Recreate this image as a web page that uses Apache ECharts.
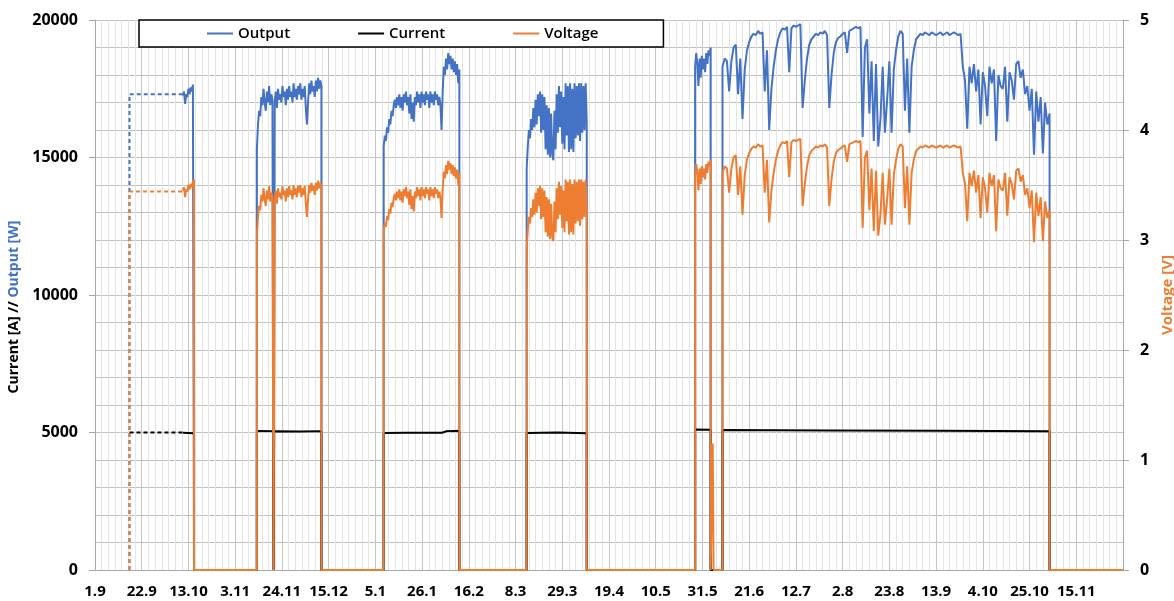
<!DOCTYPE html>
<html>
<head>
<meta charset="utf-8">
<script src="https://cdn.jsdelivr.net/npm/echarts@6/dist/echarts.min.js"></script>
<style>
    html, body {margin: 0; padding: 0; background: #fff;}
    #chart {width: 1174px; height: 601px;}
</style>
</head>
<body>
<div id="chart"></div>
<script>
// x values are days counted from 1.9.2019
const startDate = [2019, 8, 1];
const axisEndDay = 462;

// evenly sampled run segments: start day and sample step (days)
const segStart = [39.5, 72.75, 129.75, 194, 269.7, 282];
const segStep = [0.5, 0.5, 0.5, 0.5, 0.5, 1];

const outputSeg0 = [17250, 17400, 16950, 17300, 17200, 17500, 17300, 17550, 17400, 17650, 17700];
const voltageSeg0 = [3.45, 3.48, 3.39, 3.46, 3.44, 3.50, 3.46, 3.51, 3.48, 3.53, 3.55];

const outputSeg1 = [
    15300, 16200, 16700, 16500, 17200, 16900, 17500, 17000, 16700, 17400,
    17000, 17600, 16900, 17300, 17100, 0, 17000, 17400, 16800, 17500,
    17100, 17300, 17000, 17600, 17200, 17400, 16900, 17500, 17100, 17600,
    17200, 17400, 17000, 17700, 17200, 17500, 17100, 17600, 17300, 17700,
    17100, 17500, 17200, 17600, 16800, 16200, 17000, 17700, 17300, 17800,
    17400, 17600, 17200, 17800, 17400, 17900, 17500, 17800, 17600,
];
const voltageSeg1 = [
    3.03, 3.21, 3.31, 3.27, 3.41, 3.35, 3.47, 3.37, 3.31, 3.45,
    3.37, 3.49, 3.35, 3.43, 3.39, 0, 3.37, 3.45, 3.33, 3.47,
    3.39, 3.43, 3.37, 3.49, 3.41, 3.45, 3.35, 3.47, 3.39, 3.49,
    3.41, 3.45, 3.37, 3.50, 3.41, 3.47, 3.39, 3.49, 3.43, 3.50,
    3.39, 3.47, 3.41, 3.49, 3.33, 3.21, 3.37, 3.50, 3.43, 3.52,
    3.45, 3.49, 3.41, 3.52, 3.45, 3.54, 3.47, 3.52, 3.49,
];

const outputSeg2 = [
    15400, 15800, 15600, 16100, 15900, 16400, 16200, 16700, 16500, 16900,
    17100, 16800, 17200, 16900, 17300, 16800, 17200, 16700, 17300, 17000,
    17400, 16900, 17200, 16600, 17300, 16400, 17000, 16300, 17200, 16900,
    17400, 17000, 17300, 16800, 17400, 17000, 17300, 16900, 17400, 17100,
    17300, 16800, 17400, 17000, 17300, 16900, 17400, 17100, 17300, 16900,
    17200, 16900, 16000, 17400, 18300, 18000, 18600, 18200, 18800, 18400,
    18700, 18200, 18600, 18100, 18500, 18000, 18400, 17700, 18200,
];
const voltageSeg2 = [
    3.08, 3.16, 3.12, 3.22, 3.18, 3.28, 3.24, 3.34, 3.30, 3.38,
    3.42, 3.36, 3.44, 3.38, 3.46, 3.36, 3.44, 3.34, 3.46, 3.40,
    3.48, 3.38, 3.44, 3.32, 3.46, 3.28, 3.40, 3.26, 3.44, 3.38,
    3.48, 3.40, 3.46, 3.36, 3.48, 3.40, 3.46, 3.38, 3.48, 3.42,
    3.46, 3.36, 3.48, 3.40, 3.46, 3.38, 3.48, 3.42, 3.46, 3.38,
    3.44, 3.38, 3.20, 3.46, 3.62, 3.56, 3.68, 3.60, 3.72, 3.64,
    3.70, 3.60, 3.68, 3.58, 3.66, 3.56, 3.64, 3.50, 3.60,
];

const outputSeg3 = [
    14600, 15400, 16000, 15700, 16400, 16000, 16800, 16100, 17100, 16200,
    17300, 16500, 17400, 15900, 17300, 16000, 17200, 15300, 16900, 15100,
    16800, 15000, 16600, 15100, 14900, 16700, 15300, 17300, 15900, 17600,
    16100, 17400, 15500, 17200, 15300, 17700, 15800, 17600, 15200, 17700,
    15300, 17500, 15200, 17700, 15700, 17600, 15800, 17700, 15600, 17700,
    15900, 17600, 16000, 17700, 16300,
];
const voltageSeg3 = [
    2.93, 3.09, 3.21, 3.15, 3.29, 3.21, 3.37, 3.23, 3.43, 3.25,
    3.47, 3.31, 3.49, 3.19, 3.47, 3.21, 3.45, 3.07, 3.39, 3.03,
    3.37, 3.01, 3.33, 3.03, 2.99, 3.35, 3.07, 3.47, 3.19, 3.53,
    3.23, 3.49, 3.11, 3.45, 3.07, 3.55, 3.17, 3.53, 3.05, 3.55,
    3.07, 3.51, 3.05, 3.55, 3.15, 3.53, 3.17, 3.55, 3.13, 3.55,
    3.19, 3.53, 3.21, 3.55, 3.27,
];

const outputSeg4 = [18300, 18800, 18400, 17600, 18600, 17900, 18700, 18200, 18600, 18100, 18800, 18400, 18900, 18700, 19000];
const voltageSeg4 = [3.59, 3.69, 3.61, 3.45, 3.65, 3.51, 3.67, 3.57, 3.65, 3.55, 3.69, 3.61, 3.71, 3.67, 3.73];

const outputSeg5 = [
    18300, 18600, 18500, 17400, 18500, 19000, 19100, 17300, 18600, 16400,
    18200, 18900, 19200, 19400, 19500, 19450, 19600, 19500, 19550, 17400,
    18900, 16000, 17500, 18300, 18900, 19300, 19550, 19700, 19650, 19750,
    18100, 19700, 19800, 19750, 19800, 19850, 16800, 17800, 18600, 19100,
    19300, 19400, 19500, 19450, 19550, 19500, 19600, 19450, 16800, 18000,
    18800, 19200, 19350, 19400, 19500, 19550, 18800, 19600, 19650, 19700,
    19750, 19700, 19750, 15750, 19000, 19300, 16600, 18500, 15600, 18400,
    15400, 16400, 18300, 15900, 17100, 18500, 15900, 18200, 18900, 19400,
    19600, 19500, 16700, 18600, 15900, 18300, 18900, 19300, 19400, 19500,
    19450, 19550, 19500, 19450, 19550, 19500, 19450, 19500, 19550, 19450,
    19500, 19550, 19450, 19500, 19550, 19500, 19450, 19500, 18300, 17800,
    16050, 18300, 17700, 18400, 17400, 18200, 16200, 18100, 17600, 16500,
    18300, 17700, 18200, 15600, 18000, 17600, 17500, 18300, 16300, 18100,
    17800, 17100, 18400, 18500, 17900, 18200, 17300, 17600, 16700, 17500,
    15100, 17400, 16300, 17200, 15150, 17000, 16200, 16600,
];
const voltageSeg5 = [
    3.61, 3.67, 3.65, 3.43, 3.65, 3.75, 3.77, 3.41, 3.67, 3.23,
    3.59, 3.73, 3.79, 3.83, 3.85, 3.84, 3.87, 3.85, 3.86, 3.43,
    3.73, 3.16, 3.45, 3.61, 3.73, 3.81, 3.86, 3.89, 3.88, 3.90,
    3.57, 3.89, 3.91, 3.90, 3.91, 3.92, 3.31, 3.51, 3.67, 3.77,
    3.81, 3.83, 3.85, 3.84, 3.86, 3.85, 3.87, 3.84, 3.31, 3.55,
    3.71, 3.79, 3.82, 3.83, 3.85, 3.86, 3.71, 3.87, 3.88, 3.89,
    3.90, 3.89, 3.90, 3.11, 3.75, 3.81, 3.27, 3.65, 3.08, 3.63,
    3.04, 3.23, 3.61, 3.14, 3.37, 3.65, 3.14, 3.59, 3.73, 3.83,
    3.87, 3.85, 3.29, 3.67, 3.14, 3.61, 3.73, 3.81, 3.83, 3.85,
    3.84, 3.86, 3.85, 3.84, 3.86, 3.85, 3.84, 3.85, 3.86, 3.84,
    3.85, 3.86, 3.84, 3.85, 3.86, 3.85, 3.84, 3.85, 3.61, 3.51,
    3.17, 3.61, 3.49, 3.63, 3.43, 3.59, 3.20, 3.57, 3.47, 3.25,
    3.61, 3.49, 3.59, 3.08, 3.55, 3.47, 3.45, 3.61, 3.22, 3.57,
    3.51, 3.37, 3.63, 3.65, 3.53, 3.59, 3.41, 3.47, 3.29, 3.45,
    2.98, 3.43, 3.22, 3.39, 2.99, 3.35, 3.20, 3.27,
];

// short voltage blip between the two summer runs
const voltageBlip = [[277.2, 0], [277.6, 1.15], [278.0, 0]];

const currentPoints = [
    [39.5, 4990], [44.5, 4970], [44.5, 0], [72.75, 0], [72.75, 5055], [80.0, 5050], [80.25, 0],
    [80.5, 5045], [92, 5040], [101.75, 5050], [101.75, 0], [129.75, 0], [129.75, 4985],
    [140, 4995], [150, 4990], [156, 4990], [158, 5050], [163.75, 5060], [163.75, 0], [194, 0],
    [194, 4985], [208, 5000], [221, 4975], [221, 0], [269.7, 0], [269.7, 5110], [276.7, 5100],
    [276.7, 0], [282, 0], [282, 5090], [330, 5075], [380, 5060], [429, 5045], [429, 0], [462, 0],
];

// dashed lead-in before the first logged data
const outputLeadIn = [[15.5, 0], [15.5, 17300], [39.5, 17300]];
const voltageLeadIn = [[15.5, 0], [15.5, 3.44], [39.5, 3.44]];
const currentLeadIn = [[15.5, 5000], [39.5, 5000]];

const outputSegs = [outputSeg0, outputSeg1, outputSeg2, outputSeg3, outputSeg4, outputSeg5];
const voltageSegs = [voltageSeg0, voltageSeg1, voltageSeg2, voltageSeg3, voltageSeg4, voltageSeg5];

const blue = '#4472C4';
const orange = '#ED7D31';
const font = '"Open Sans", "DejaVu Sans", sans-serif';


function buildRuns(segs, extra) {
    let data = [];
    segs.forEach((vals, k) => {
        const t0 = segStart[k];
        const dt = segStep[k];
        if (k > 0) {
            data.push([t0, 0]);
        }
        vals.forEach((v, i) => data.push([t0 + i * dt, v]));
        data.push([t0 + (vals.length - 1) * dt, 0]);
    });
    data = data.concat(extra || []);
    data.push([axisEndDay, 0]);
    return data.sort((a, b) => a[0] - b[0]);
}


function fmtDay(v) {
    const d = new Date(startDate[0], startDate[1], startDate[2] + Math.round(v));
    return `${d.getDate()}.${d.getMonth() + 1}`;
}


const chart = echarts.init(document.getElementById('chart'));
const labelStyle = {color: '#000', fontWeight: 'bold', fontSize: 15, fontFamily: font};
const legendIcon = 'path://M0,0H26V2H0Z';

chart.setOption({
    animation: false,
    backgroundColor: '#fff',
    grid: {left: 95, right: 51, top: 20, bottom: 31, outerBoundsMode: 'none'},
    legend: {
        data: [
            {name: 'Output', icon: legendIcon},
            {name: 'Current', icon: legendIcon},
            {name: 'Voltage', icon: legendIcon},
        ],
        left: 139,
        top: 20,
        padding: [6, 65, 6, 68],
        itemGap: 68,
        itemWidth: 26,
        itemHeight: 2,
        borderColor: '#000',
        borderWidth: 1.5,
        backgroundColor: '#fff',
        textStyle: {color: '#000', fontSize: 15, fontWeight: 600, fontFamily: font, height: 14, lineHeight: 14},
    },
    xAxis: {
        type: 'value',
        min: 0,
        max: axisEndDay,
        interval: 21,
        axisLine: {show: true, lineStyle: {color: '#a6a6a6'}},
        axisTick: {show: false},
        axisLabel: {...labelStyle, margin: 14, formatter: v => v >= axisEndDay ? '' : fmtDay(v)},
        splitLine: {show: true, lineStyle: {color: '#c6c6c6'}},
        minorTick: {show: false, splitNumber: 7},
        minorSplitLine: {show: true, lineStyle: {color: '#e4e4e4'}},
    },
    yAxis: [{
        type: 'value',
        min: 0,
        max: 20000,
        interval: 5000,
        axisLine: {show: true, lineStyle: {color: '#a6a6a6'}},
        axisTick: {show: true, length: 6, lineStyle: {color: '#a6a6a6'}},
        axisLabel: {...labelStyle, fontSize: 16, margin: 17, formatter: v => String(v)},
        splitLine: {lineStyle: {color: '#c0c0c0'}},
        minorTick: {show: false, splitNumber: 5},
        minorSplitLine: {show: true, lineStyle: {color: '#c0c0c0'}},
        name: '{a|Current [A] // }{b|Output [W]}',
        nameLocation: 'middle',
        nameRotate: 90,
        nameGap: 72,
        nameTextStyle: {
            align: 'center',
            verticalAlign: 'middle',
            padding: [0, 24, 0, 0],
            rich: {
                a: {color: '#000', fontWeight: 'bold', fontSize: 14, fontFamily: font},
                b: {color: blue, fontWeight: 'bold', fontSize: 14, fontFamily: font},
            },
        },
    }, {
        type: 'value',
        min: 0,
        max: 5,
        interval: 1,
        position: 'right',
        axisLine: {show: true, lineStyle: {color: '#a6a6a6'}},
        axisTick: {show: true, length: 6, lineStyle: {color: '#a6a6a6'}},
        axisLabel: {...labelStyle, fontSize: 16, margin: 17},
        splitLine: {show: false},
        name: 'Voltage [V]',
        nameLocation: 'middle',
        nameRotate: 90,
        nameGap: 40,
        nameTextStyle: {
            color: orange, fontWeight: 'bold', fontSize: 15, fontFamily: font,
            align: 'center', verticalAlign: 'middle',
        },
    }],
    series: [{
        name: 'Output',
        type: 'line',
        symbol: 'none',
        clip: false,
        color: blue,
        lineStyle: {color: blue, width: 2},
        data: buildRuns(outputSegs),
    }, {
        name: 'Output',
        type: 'line',
        symbol: 'none',
        clip: false,
        lineStyle: {color: blue, width: 2, type: [4, 3]},
        data: outputLeadIn,
    }, {
        name: 'Current',
        type: 'line',
        symbol: 'none',
        clip: false,
        color: '#000',
        lineStyle: {color: '#000', width: 2},
        data: currentPoints,
    }, {
        name: 'Current',
        type: 'line',
        symbol: 'none',
        clip: false,
        lineStyle: {color: '#000', width: 2, type: [4, 3]},
        data: currentLeadIn,
    }, {
        name: 'Voltage',
        type: 'line',
        yAxisIndex: 1,
        symbol: 'none',
        clip: false,
        color: orange,
        lineStyle: {color: orange, width: 2},
        data: buildRuns(voltageSegs, voltageBlip),
    }, {
        name: 'Voltage',
        type: 'line',
        yAxisIndex: 1,
        symbol: 'none',
        clip: false,
        lineStyle: {color: orange, width: 2, type: [4, 3]},
        data: voltageLeadIn,
    }],
});
</script>
</body>
</html>
